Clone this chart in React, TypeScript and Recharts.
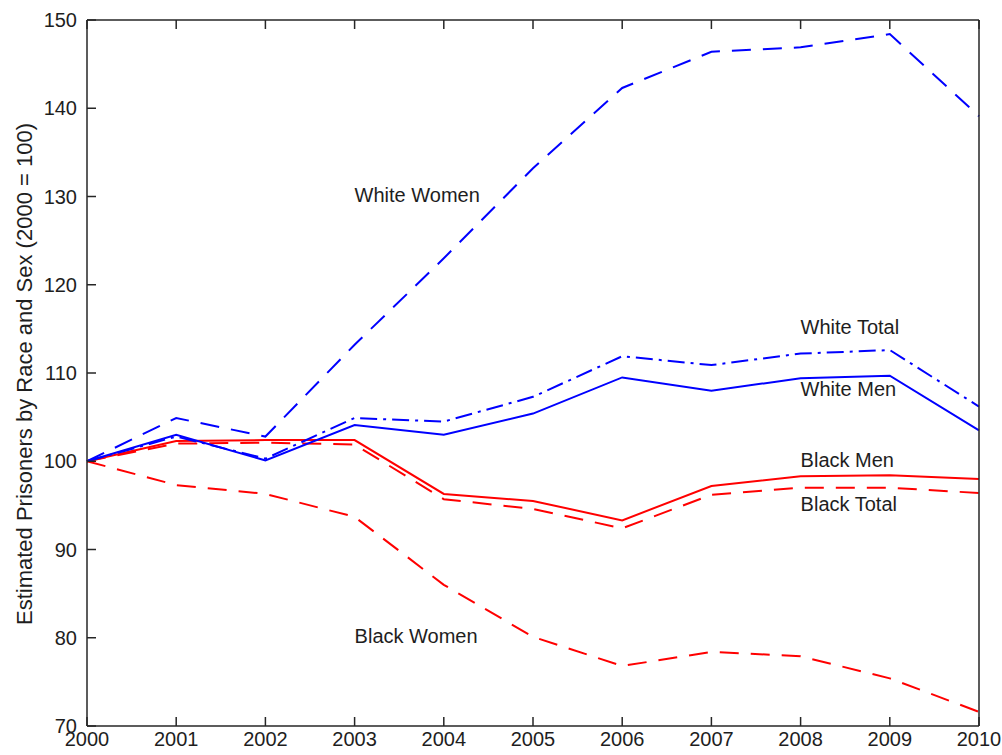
import { LineChart, Line, XAxis, YAxis, ReferenceDot } from 'recharts'

const years = [2000, 2001, 2002, 2003, 2004, 2005, 2006, 2007, 2008, 2009, 2010]
const whiteWomen = [100, 104.9, 102.8, 113.2, 123.0, 133.2, 142.3, 146.4, 146.9, 148.4, 139.1]
const whiteTotal = [100, 102.8, 100.3, 104.9, 104.5, 107.3, 111.9, 110.9, 112.2, 112.6, 106.2]
const whiteMen = [100, 103.0, 100.1, 104.1, 103.0, 105.4, 109.5, 108.0, 109.4, 109.7, 103.5]
const blackMen = [100, 102.3, 102.4, 102.4, 96.3, 95.5, 93.3, 97.2, 98.3, 98.4, 98.0]
const blackTotal = [100, 102.0, 102.1, 101.9, 95.7, 94.6, 92.4, 96.2, 97.0, 97.0, 96.4]
const blackWomen = [100, 97.3, 96.3, 93.7, 86.0, 80.1, 76.8, 78.4, 77.9, 75.4, 71.6]

const yTicks = [70, 80, 90, 100, 110, 120, 130, 140, 150]

// annotation labels: [text, year, value]
const labels: [string, number, number][] = [
  ['White Women', 2003, 130],
  ['White Total', 2008, 115],
  ['White Men', 2008, 108],
  ['Black Men', 2008, 100],
  ['Black Total', 2008, 95],
  ['Black Women', 2003, 80],
]

const data = years.map((year, i) => ({
  year,
  whiteWomen: whiteWomen[i],
  whiteTotal: whiteTotal[i],
  whiteMen: whiteMen[i],
  blackMen: blackMen[i],
  blackTotal: blackTotal[i],
  blackWomen: blackWomen[i],
}))

const FONT = '"Liberation Sans", Arial, Helvetica, sans-serif'
const AXIS = '#262626'
const TEXT = '#1e1e1e'
const TICK = 9
const BLUE = '#0000ff'
const RED = '#ff0000'
const DASH = '19 12'
const DASHDOT = '17 6 3 6'

const axisLine = { stroke: AXIS, strokeWidth: 1.5 }

const BottomTick = (p: any) => (
  <g>
    <line x1={p.x} x2={p.x} y1={p.y} y2={p.y - TICK} stroke={AXIS} strokeWidth={1.5} />
    <text x={p.x} y={p.y + 20} textAnchor="middle" fontSize={20} fontFamily={FONT} fill={TEXT}>
      {p.payload.value}
    </text>
  </g>
)
const TopTick = (p: any) => (
  <line x1={p.x} x2={p.x} y1={p.y} y2={p.y + TICK} stroke={AXIS} strokeWidth={1.5} />
)
const LeftTick = (p: any) => (
  <g>
    <line x1={p.x} x2={p.x + TICK} y1={p.y} y2={p.y} stroke={AXIS} strokeWidth={1.5} />
    <text x={p.x - 10} y={p.y + 7} textAnchor="end" fontSize={20} fontFamily={FONT} fill={TEXT}>
      {p.payload.value}
    </text>
  </g>
)
const RightTick = (p: any) => (
  <line x1={p.x} x2={p.x - TICK} y1={p.y} y2={p.y} stroke={AXIS} strokeWidth={1.5} />
)

export default function App() {
  return (
    <div style={{ position: 'absolute', left: 0, top: 0, width: 1002, height: 755, background: '#fff' }}>
      <LineChart
        width={1002}
        height={755}
        data={data}
        margin={{ top: 10, right: 13, bottom: 0, left: 27 }}
      >
        <XAxis
          dataKey="year"
          type="number"
          domain={[2000, 2010]}
          ticks={years}
          xAxisId="bottom"
          height={29}
          axisLine={axisLine}
          tickLine={false}
          tickSize={0}
          tickMargin={0}
          tick={BottomTick}
          interval={0}
        />
        <XAxis
          dataKey="year"
          type="number"
          domain={[2000, 2010]}
          ticks={years}
          xAxisId="top"
          orientation="top"
          height={10}
          axisLine={axisLine}
          tickLine={false}
          tickSize={0}
          tickMargin={0}
          tick={TopTick}
          interval={0}
        />
        <YAxis
          yAxisId="left"
          type="number"
          domain={[70, 150]}
          ticks={yTicks}
          width={60}
          axisLine={axisLine}
          tickLine={false}
          tickSize={0}
          tickMargin={0}
          tick={LeftTick}
          interval={0}
          label={{
            content: () => (
              <text
                x={32}
                y={374}
                transform="rotate(-90, 32, 374)"
                textAnchor="middle"
                fontSize={22}
                fontFamily={FONT}
                fill={TEXT}
              >
                Estimated Prisoners by Race and Sex (2000 = 100)
              </text>
            ),
          }}
        />
        <YAxis
          yAxisId="right"
          orientation="right"
          type="number"
          domain={[70, 150]}
          ticks={yTicks}
          width={10}
          axisLine={axisLine}
          tickLine={false}
          tickSize={0}
          tickMargin={0}
          tick={RightTick}
          interval={0}
        />
        <Line xAxisId="bottom" yAxisId="left" dataKey="blackWomen" stroke={RED} strokeWidth={2} strokeDasharray={DASH} dot={false} isAnimationActive={false} />
        <Line xAxisId="bottom" yAxisId="left" dataKey="blackTotal" stroke={RED} strokeWidth={2} strokeDasharray={DASH} dot={false} isAnimationActive={false} />
        <Line xAxisId="bottom" yAxisId="left" dataKey="blackMen" stroke={RED} strokeWidth={2} dot={false} isAnimationActive={false} />
        <Line xAxisId="bottom" yAxisId="left" dataKey="whiteWomen" stroke={BLUE} strokeWidth={2} strokeDasharray={DASH} dot={false} isAnimationActive={false} />
        <Line xAxisId="bottom" yAxisId="left" dataKey="whiteTotal" stroke={BLUE} strokeWidth={2} strokeDasharray={DASHDOT} dot={false} isAnimationActive={false} />
        <Line xAxisId="bottom" yAxisId="left" dataKey="whiteMen" stroke={BLUE} strokeWidth={2} dot={false} isAnimationActive={false} />
        {labels.map(([text, x, y]) => (
          <ReferenceDot
            key={text}
            xAxisId="bottom"
            yAxisId="left"
            x={x}
            y={y}
            r={0}
            shape={(p: any) => (
              <text x={p.cx} y={p.cy + 5.5} textAnchor="start" fontSize={20} fontFamily={FONT} fill={TEXT}>
                {text}
              </text>
            )}
          />
        ))}
      </LineChart>
    </div>
  )
}
